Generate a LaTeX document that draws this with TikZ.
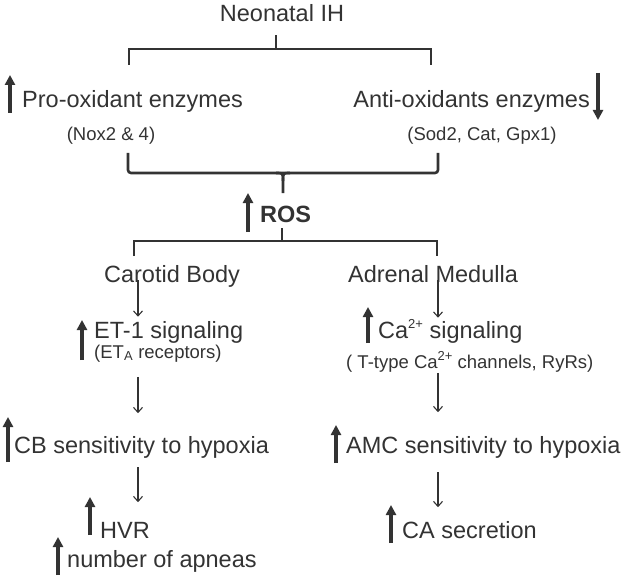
\documentclass[tikz,border=0pt]{standalone}
\usepackage{fontspec}
\setmainfont{Liberation Sans}
\usetikzlibrary{arrows.meta}
\definecolor{ink}{HTML}{333333}
\newcommand{\supsc}[1]{\raisebox{0.42em}{\fontsize{13}{13}\selectfont #1}}

\tikzset{
  txt/.style={inner sep=0pt, text height=17.6pt, text depth=5.9pt, font=\fontsize{23.5}{28}\selectfont, text=ink},
  sub/.style={inner sep=0pt, text height=14pt, text depth=4.6pt, font=\fontsize{18.5}{22}\selectfont, text=ink},
  bar/.style={draw=ink, line width=1.1pt},
  flow/.style={draw=ink, line width=1.1pt, -{Straight Barb[length=5pt,width=9pt]}},
  brace/.style={draw=ink, line width=2.6pt, rounded corners=3pt},
  uparr/.style={draw=ink, line width=3.4pt, -{Triangle[length=10pt,width=10pt]}}
}

\begin{document}
\begin{tikzpicture}[x=1pt,y=-1pt]
\useasboundingbox (0,0) rectangle (628,580);
% enzymes
\node[txt, anchor=base] (ih) at (282,22) {Neonatal IH};
\node[txt, anchor=base west] (pro) at (22,108) {Pro-oxidant enzymes};
\node[txt, anchor=base east] (anti) at (590,108) {Anti-oxidants enzymes};
\node[sub, anchor=base] (nox) at (111,141) {(Nox2 \& 4)};
\node[sub, anchor=base] (sod) at (482,141) {(Sod2, Cat, Gpx1)};
\node[txt, anchor=base west, font=\fontsize{23.5}{28}\selectfont\bfseries] (ros) at (260,222) {ROS};
% organs
\node[txt, anchor=base] (cb) at (172,282) {Carotid Body};
\node[txt, anchor=base] (am) at (433,282) {Adrenal Medulla};
\node[txt, anchor=base west] (et) at (94,338) {ET-1 signaling};
\node[sub, anchor=base west] (etr) at (94,358) {(ET\textsubscript{A} receptors)};
\node[txt, anchor=base west] (ca) at (378,338) {Ca\supsc{2+} signaling};
\node[sub, anchor=base west] (tt) at (346,368) {( T-type Ca\supsc{2+} channels, RyRs)};
\node[txt, anchor=base west] (cbs) at (14,453) {CB sensitivity to hypoxia};
\node[txt, anchor=base west] (amc) at (346,453) {AMC sensitivity to hypoxia};
\node[txt, anchor=base west] (hvr) at (100,538) {HVR};
\node[txt, anchor=base west] (apn) at (67,567) {number of apneas};
\node[txt, anchor=base west] (cas) at (402,538) {CA secretion};

% brackets
\coordinate (j1) at (276,49);
\coordinate (j2) at (282,241);
\draw[bar, shorten <=7pt] (ih.south -| j1) -- (j1);
\draw[bar] (129,65) |- (j1) -| (431,65);
\draw[brace] (128,153) |- (438,173) -- (438,153);
\draw[brace, rounded corners=0pt] (276,173) .. controls (283,173) .. (283,181) -- (283,193);
\draw[brace, rounded corners=0pt] (290,173) .. controls (283,173) .. (283,181);
\draw[bar] (ros.south -| j2) -- (j2);
\draw[bar] (134,256) |- (j2) -| (437,256);

% flow
\coordinate (xl) at (138,0);
\coordinate (xr) at (438,0);
\draw[flow, shorten <=-8pt, shorten >=3.5pt] (cb.south -| xl) -- (et.north -| xl);
\draw[flow, shorten <=-8pt, shorten >=2.5pt] (am.south -| xr) -- (ca.north -| xr);
\draw[flow, shorten <=14pt, shorten >=22pt] (etr.south -| xl) -- (cbs.north -| xl);
\draw[flow, shorten >=23pt] (tt.south -| xr) -- (amc.north -| xr);
\draw[flow, shorten <=8pt, shorten >=18pt] (cbs.south -| xl) -- (hvr.north -| xl);
\draw[flow, shorten <=13pt, shorten >=13pt] (amc.south -| xr) -- (cas.north -| xr);

% up / down markers
\foreach \x/\a/\b in {10/113/75, 598/73/120, 248/232/193, 82/360/320, 368/343/307,
  8/462/417, 336/463/425, 90/535/497, 58/575/537, 391/543/505}
  \draw[uparr] (\x,\a) -- (\x,\b);
\end{tikzpicture}
\end{document}
